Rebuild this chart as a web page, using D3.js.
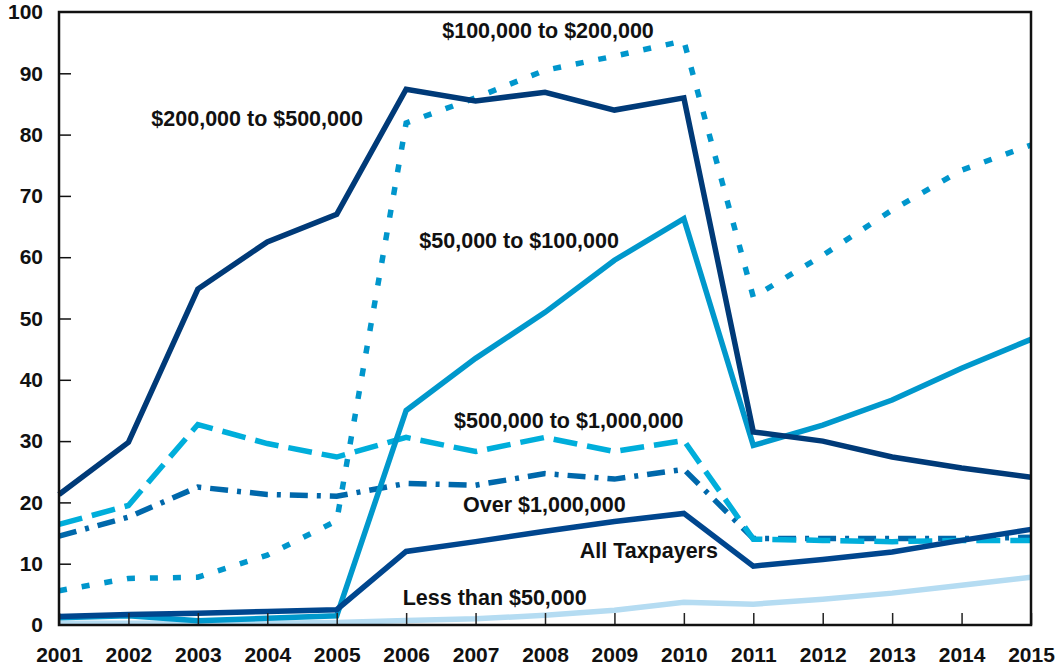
<!DOCTYPE html>
<html>
<head>
<meta charset="utf-8">
<script src="https://cdn.jsdelivr.net/npm/d3@7"></script>
<style>
  body { margin: 0; background: #fff; }
  text { font-family: "Liberation Sans", Arial, sans-serif; font-weight: bold; fill: #111; }
</style>
</head>
<body>
<div id="chart"></div>
<script>
// years on the x axis
var years = d3.range(2001, 2016);
var yTicks = [0, 10, 20, 30, 40, 50, 60, 70, 80, 90, 100];

// series values
var lessThan50k   = [0.3, 0.3, 0.3, 0.3, 0.4, 0.75, 1.0, 1.6, 2.4, 3.7, 3.4, 4.2, 5.2, 6.5, 7.8];
var from50to100k  = [1.2, 1.5, 0.7, 1.1, 1.5, 35, 43.5, 51, 59.5, 66.3, 29.3, 32.6, 36.7, 41.9, 46.6];
var from100to200k = [5.6, 7.6, 7.8, 11.4, 17, 81.9, 86, 90.5, 92.8, 95.3, 53.5, 60.3, 67.7, 74.2, 78.3];
var from200to500k = [21.3, 29.8, 54.8, 62.5, 67, 87.4, 85.5, 86.9, 84, 86, 31.5, 30, 27.4, 25.6, 24.1];
var from500kto1m  = [16.4, 19.5, 32.7, 29.6, 27.4, 30.6, 28.3, 30.6, 28.3, 30.1, 14, 13.8, 13.6, 13.8, 13.8];
var over1m        = [14.5, 17.6, 22.5, 21.3, 21, 23.1, 22.8, 24.7, 23.8, 25.4, 14.1, 14.1, 14.1, 14.1, 14.3];
var allTaxpayers  = [1.4, 1.7, 1.9, 2.2, 2.5, 12, 13.6, 15.3, 16.9, 18.2, 9.6, 10.7, 11.9, 13.8, 15.6];

var series = [
  {name: "Less than $50,000", values: lessThan50k, color: "#b5dcf2", dash: null},
  {name: "$100,000 to $200,000", values: from100to200k, color: "#0096cc", dash: "8,15"},
  {name: "Over $1,000,000", values: over1m, color: "#0068ab", dash: "18,9,4,9"},
  {name: "$500,000 to $1,000,000", values: from500kto1m, color: "#00aedb", dash: "24,10"},
  {name: "$50,000 to $100,000", values: from50to100k, color: "#0098cc", dash: null},
  {name: "All Taxpayers", values: allTaxpayers, color: "#00468e", dash: null},
  {name: "$200,000 to $500,000", values: from200to500k, color: "#003a78", dash: null}
];

// label anchors in data units (year, value)
var labels = [
  {text: "$100,000 to $200,000", year: 2006.52, value: 95.7},
  {text: "$200,000 to $500,000", year: 2002.33, value: 81.4},
  {text: "$50,000 to $100,000", year: 2006.19, value: 61.5},
  {text: "$500,000 to $1,000,000", year: 2006.69, value: 32.2},
  {text: "Over $1,000,000", year: 2006.82, value: 18.5},
  {text: "All Taxpayers", year: 2008.5, value: 10.9},
  {text: "Less than $50,000", year: 2005.95, value: 3.2}
];

var svgWidth = 1058;
var svgHeight = 667;
var margin = {top: 12, right: 27, bottom: 42, left: 59};
var width = svgWidth - margin.left - margin.right;
var height = svgHeight - margin.top - margin.bottom;

var svg = d3.select("#chart")
    .append("svg")
    .attr("width", svgWidth)
    .attr("height", svgHeight);

var chartGroup = svg.append("g")
    .attr("transform", `translate(${margin.left}, ${margin.top})`);

var xScale = d3.scaleLinear()
    .domain([2001, 2015])
    .range([0, width]);

var yScale = d3.scaleLinear()
    .domain([0, 100])
    .range([height, 0]);

// lines
var line = d3.line()
    .x(function(d, i) { return xScale(years[i]); })
    .y(function(d) { return yScale(d); });

chartGroup.selectAll(".series")
    .data(series)
    .enter()
    .append("path")
    .attr("class", "series")
    .attr("d", function(d) { return line(d.values); })
    .attr("fill", "none")
    .attr("stroke", function(d) { return d.color; })
    .attr("stroke-width", 5.5)
    .attr("stroke-linejoin", "miter")
    .attr("stroke-dasharray", function(d) { return d.dash; });

// axes
var leftAxis = d3.axisLeft(yScale)
    .tickValues(yTicks)
    .tickSize(-12)
    .tickPadding(16)
    .tickFormat(d3.format("d"));

var bottomAxis = d3.axisBottom(xScale)
    .tickValues(years)
    .tickSize(-12)
    .tickPadding(22)
    .tickFormat(d3.format("d"));

var yAxisG = chartGroup.append("g")
    .call(leftAxis);
yAxisG.select(".domain").remove();
yAxisG.selectAll(".tick line").attr("stroke", "#111").attr("stroke-width", 1.5)
    .filter(function(d) { return d === 0 || d === 100; }).remove();
yAxisG.selectAll(".tick text")
    .style("font-size", "21px")
    .attr("fill", "#111");

var xAxisG = chartGroup.append("g")
    .attr("transform", `translate(0, ${height})`)
    .call(bottomAxis);
xAxisG.select(".domain").remove();
xAxisG.selectAll(".tick line").attr("stroke", "#222").attr("stroke-width", 1.5);
xAxisG.selectAll(".tick text")
    .style("font-size", "21px")
    .attr("fill", "#111");

// frame
chartGroup.append("rect")
    .attr("x", 0)
    .attr("y", 0)
    .attr("width", width)
    .attr("height", height)
    .attr("fill", "none")
    .attr("stroke", "#111")
    .attr("stroke-width", 2.5);

// series labels
chartGroup.selectAll(".label")
    .data(labels)
    .enter()
    .append("text")
    .attr("class", "label")
    .attr("x", function(d) { return xScale(d.year); })
    .attr("y", function(d) { return yScale(d.value); })
    .style("font-size", "21.5px")
    .text(function(d) { return d.text; });
</script>
</body>
</html>
